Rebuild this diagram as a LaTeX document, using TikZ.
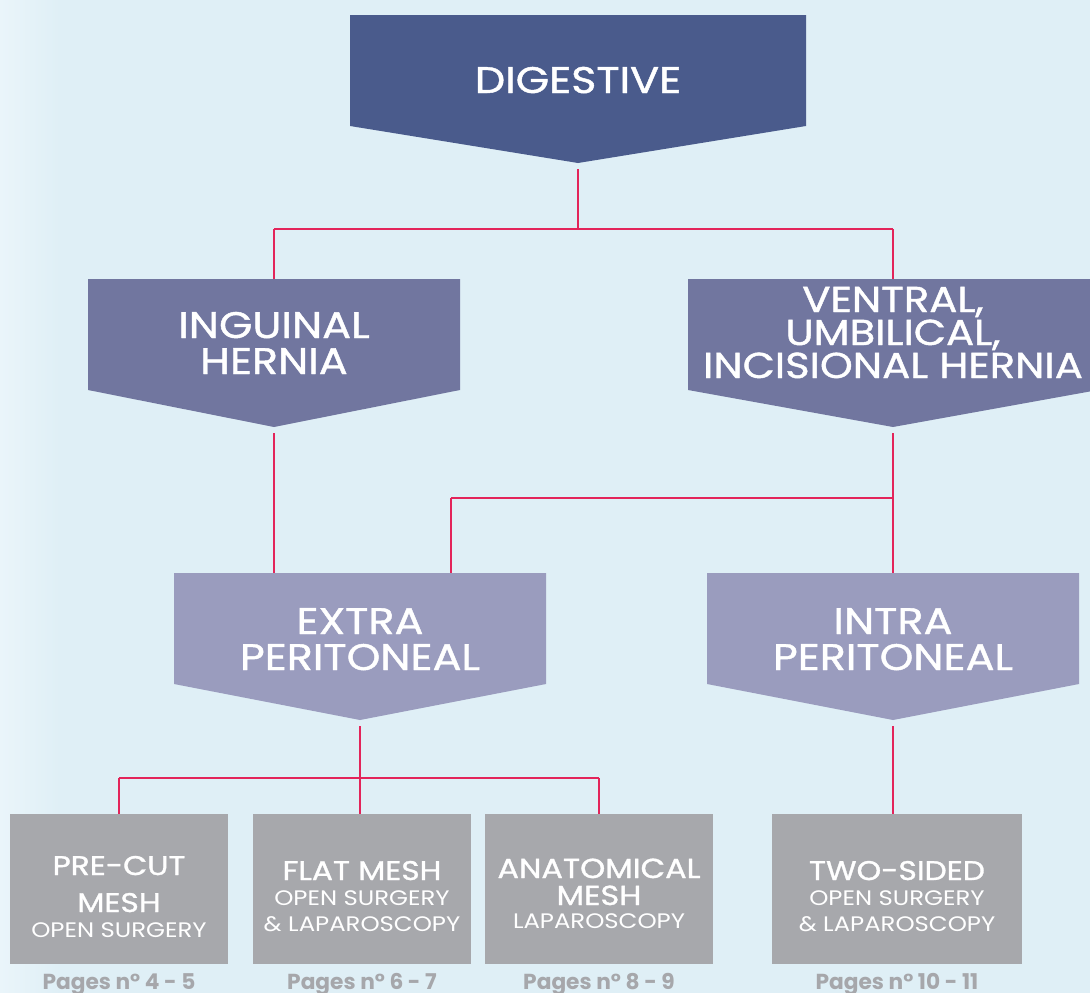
\documentclass[tikz,border=0pt]{standalone}
\usepackage{fontspec}
\setmainfont{Poppins}[FakeStretch=1.16]
\newfontfamily\headfont{Poppins}[FakeStretch=1.16, FakeBold=1.2]
\newfontfamily\pagefont{Poppins}
\usetikzlibrary{calc}
\definecolor{bg}{HTML}{DFEFF6}
\definecolor{bgl}{HTML}{EAF5FA}
\definecolor{c1}{HTML}{4A5B8C}
\definecolor{c2}{HTML}{71769F}
\definecolor{c3}{HTML}{9A9CBE}
\definecolor{c4}{HTML}{A7A8AC}
\definecolor{ln}{HTML}{E3245A}
\definecolor{pg}{HTML}{A6A7AB}
\tikzset{
  vline/.style={draw=ln, line width=1.2pt},
  hline/.style={draw=ln, line width=2pt},
  lbl/.style={text=white, align=center, inner sep=0pt, anchor=base},
  biglbl/.style={lbl, font=\headfont\fontsize{37}{36}\selectfont},
  ttl/.style={lbl, font=\headfont\fontsize{27}{37}\selectfont},
  sub/.style={lbl, font=\fontsize{21}{26}\selectfont},
  pglbl/.style={text=pg, inner sep=0pt, anchor=base, font=\pagefont\fontsize{21.7}{22}\selectfont\bfseries},
  gbox/.style={fill=c4, inner sep=0pt, minimum height=150pt},
}
% name, x1, x2, ytop, yside, ytip, colour
\newcommand\chevron[7]{%
  \fill[#7] (#2,#4) -- (#3,#4) -- (#3,#5) -- ({(#2+#3)/2},#6) -- (#2,#5) -- cycle;
  \coordinate (#1-top) at ({(#2+#3)/2},#4);
  \coordinate (#1-tip) at ({(#2+#3)/2},#6);
}
\begin{document}
\begin{tikzpicture}[x=1pt,y=-1pt]
\fill[bg] (0,0) rectangle (1090,993);
\shade[left color=bgl, right color=bg] (0,0) rectangle (60,993);
\useasboundingbox (0,0) rectangle (1090,993);

\chevron{dig}{350}{806}{15}{126}{163}{c1}
\chevron{ing}{88}{460}{279}{390}{427}{c2}
\chevron{ven}{688}{1098}{279}{390}{427}{c2}
\chevron{ext}{174}{546}{573}{684}{720}{c3}
\chevron{int}{707}{1079}{573}{684}{720}{c3}

\node[biglbl] (dig-t) at (578,93) {DIGESTIVE};
\node[biglbl] (ing-t) at (274,374) {INGUINAL\\HERNIA};
\node[lbl, font=\headfont\fontsize{36}{33}\selectfont] (ven-t) at (893,378) {VENTRAL,\\UMBILICAL,\\INCISIONAL HERNIA};
\node[biglbl] (ext-t) at (360,670) {EXTRA\\PERITONEAL};
\node[biglbl] (int-t) at (893,670) {INTRA\\PERITONEAL};

\node[gbox, minimum width=218pt] (b1) at (119,889) {};
\node[gbox, minimum width=218pt] (b2) at (362,889) {};
\node[gbox, minimum width=228pt] (b3) at (599,889) {};
\node[gbox, minimum width=250pt] (b4) at (897,889) {};

\node[ttl] (b1-t) at (119,912) {PRE-CUT\\MESH};
\node[sub] (b1-s) at (119,937) {OPEN SURGERY};
\node[ttl] (b2-t) at (362,880) {FLAT MESH};
\node[sub] (b2-s) at (362,931) {OPEN SURGERY\\\& LAPAROSCOPY};
\node[ttl, font=\headfont\fontsize{27.5}{27}\selectfont] (b3-t) at (599,905) {ANATOMICAL\\MESH};
\node[sub] (b3-s) at (599,928) {LAPAROSCOPY};
\node[ttl] (b4-t) at (897,880) {TWO-SIDED};
\node[sub] (b4-s) at (897,931) {OPEN SURGERY\\\& LAPAROSCOPY};

\node[pglbl] (p1) at (119,989) {Pages n° 4 - 5};
\node[pglbl] (p2) at (362,989) {Pages n° 6 - 7};
\node[pglbl] (p3) at (599,989) {Pages n° 8 - 9};
\node[pglbl] (p4) at (897,989) {Pages n° 10 - 11};

\coordinate (j1) at (578,229);
\coordinate (j2) at (451,498);
\coordinate (j3) at (360,778);

\draw[vline] ([yshift=-6pt]dig-tip) -- (dig-tip |- j1);
\draw[hline] (ing-top |- j1) -- (ven-top |- j1);
\draw[vline] (ing-top |- j1) -- (ing-top);
\draw[vline] (ven-top |- j1) -- (ven-top);

\draw[vline] ([yshift=-6pt]ing-tip) -- (ing-tip |- ext-top);
\draw[vline] ([yshift=-6pt]ven-tip) -- (ven-tip |- j2);
\draw[hline] (j2) -- (ven-tip |- j2);
\draw[vline] (j2) -- (j2 |- ext-top);
\draw[vline] (ven-tip |- j2) -- (int-top);

\draw[vline] ([yshift=-6pt]ext-tip) -- (ext-tip |- j3);
\draw[hline] (b1.north |- j3) -- (b3.north |- j3);
\draw[vline] (b1.north |- j3) -- (b1.north);
\draw[vline] (ext-tip |- j3) -- (ext-tip |- b2.north);
\draw[vline] (b3.north |- j3) -- (b3.north);
\draw[vline] ([yshift=-6pt]int-tip) -- (int-tip |- b4.north);
\end{tikzpicture}
\end{document}
